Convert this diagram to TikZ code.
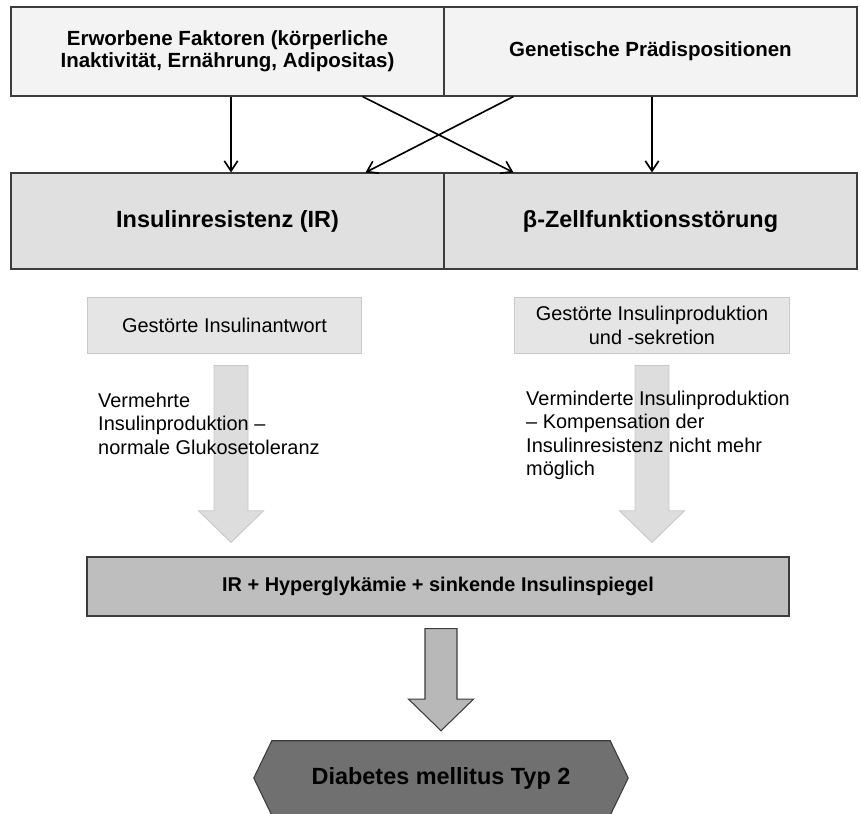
\documentclass[tikz,border=0pt]{standalone}
\usepackage{fontspec}
\setmainfont{Liberation Sans}
\usetikzlibrary{arrows.meta, positioning, calc, backgrounds}
\definecolor{linegray}{RGB}{60, 60, 60}
\definecolor{topfill}{RGB}{243, 243, 243}
\definecolor{mainfill}{RGB}{224, 224, 224}
\definecolor{subfill}{RGB}{229, 229, 229}
\definecolor{subline}{RGB}{200, 200, 200}
\definecolor{lightarrow}{RGB}{221, 221, 221}
\definecolor{resultfill}{RGB}{190, 190, 190}
\definecolor{darkarrow}{RGB}{184, 184, 184}
\definecolor{hexfill}{RGB}{112, 112, 112}

% vertical block arrow: style, start, end, half shaft, half head
\newcommand{\blockarrow}[5]{%
    \path[#1] let \p1=#2, \p2=#3 in
        (\x1-#4,\y1) -- (\x1+#4,\y1) -- (\x1+#4,\y2+0.95cm) -- (\x1+#5,\y2+0.95cm)
        -- (\x1,\y2) -- (\x1-#5,\y2+0.95cm) -- (\x1-#4,\y2+0.95cm) -- cycle;}

\begin{document}
\begin{tikzpicture}[
    topbox/.style={rectangle, draw=linegray, line width=1pt, fill=topfill, minimum height=2.67cm, align=center, font=\bfseries\fontsize{17.5}{19}\selectfont},
    mainbox/.style={rectangle, draw=linegray, line width=1pt, fill=mainfill, minimum height=2.88cm, align=center, font=\bfseries\fontsize{20}{24}\selectfont},
    subbox/.style={rectangle, draw=subline, line width=0.8pt, fill=subfill, minimum width=8.24cm, minimum height=1.68cm, align=center, font=\fontsize{17}{20.5}\selectfont},
    note/.style={anchor=west, inner sep=0pt, align=left, font=\fontsize{17}{20}\selectfont},
    resultbox/.style={rectangle, draw=linegray, line width=1pt, fill=resultfill, minimum width=21.06cm, minimum height=1.77cm, align=center, font=\bfseries\fontsize{17}{20}\selectfont},
    hexbox/.style={rectangle, minimum width=10.14cm, minimum height=2.22cm, align=center, font=\bfseries\fontsize{20}{24}\selectfont},
    thinarrow/.style={line width=1.4pt, -{Straight Barb[length=3mm, width=4mm]}},
    lightblock/.style={fill=lightarrow, draw=subline, line width=0.8pt},
    darkblock/.style={fill=darkarrow, draw=linegray, line width=0.9pt}
]
    \useasboundingbox (0,0) rectangle (25.83,-24.42);
    \coordinate (colL) at (6.93,0);
    \coordinate (colR) at (19.56,0);

    % causes
    \node[topbox, minimum width=12.99cm] (fak) at (6.825, -1.545) {Erworbene Faktoren (körperliche\\Inaktivität, Ernährung, Adipositas)};
    \node[topbox, minimum width=12.39cm] (gen) at (19.515, -1.545) {Genetische Prädispositionen};

    % disorders
    \node[mainbox, minimum width=12.99cm] (ins) at (6.825, -6.63) {Insulinresistenz (IR)};
    \node[mainbox, minimum width=12.39cm] (beta) at (19.515, -6.63) {β-Zellfunktionsstörung};

    \draw[thinarrow] (fak.south -| colL) -- (ins.north -| colL);
    \draw[thinarrow] (gen.south -| colR) -- (beta.north -| colR);
    \draw[thinarrow] ($(fak.south east)+(-2.46,0)$) -- ($(beta.north west)+(2.1,0)$);
    \draw[thinarrow] ($(gen.south west)+(2.1,0)$) -- ($(ins.north east)+(-2.37,0)$);

    % consequences
    \node[subbox] (ga) at (6.735, -9.75) {Gestörte Insulinantwort};
    \node[subbox] (gip) at (19.56, -9.75) {Gestörte Insulinproduktion\\und -sekretion};

    \node[resultbox] (ir) at (13.14, -17.595) {IR + Hyperglykämie + sinkende Insulinspiegel};
    \node[hexbox] (dm) at (13.23, -23.34) {Diabetes mellitus Typ 2};
    \begin{scope}[on background layer]
        \filldraw[fill=hexfill, draw=linegray, line width=0.9pt] (dm.north west) -- (dm.north east) -- ($(dm.east)+(0.54,0)$)
            -- (dm.south east) -- (dm.south west) -- ($(dm.west)+(-0.54,0)$) -- cycle;
    \end{scope}

    \blockarrow{lightblock}{($(ga.south -| colL)+(0,-0.36)$)}{($(ir.north -| colL)+(0,0.42)$)}{0.51cm}{0.975cm}
    \blockarrow{lightblock}{($(gip.south -| colR)+(0,-0.36)$)}{($(ir.north -| colR)+(0,0.42)$)}{0.51cm}{0.975cm}
    \blockarrow{darkblock}{($(ir.south -| dm.north)+(0,-0.36)$)}{($(dm.north)+(0,0.3)$)}{0.48cm}{0.975cm}

    \node[note] (nL) at (2.94, -12.705) {Vermehrte\\Insulinproduktion –\\normale Glukosetoleranz};
    \node[note] (nR) at (15.78, -13.065) {Verminderte Insulinproduktion\\– Kompensation der\\Insulinresistenz nicht mehr\\möglich};
\end{tikzpicture}
\end{document}
